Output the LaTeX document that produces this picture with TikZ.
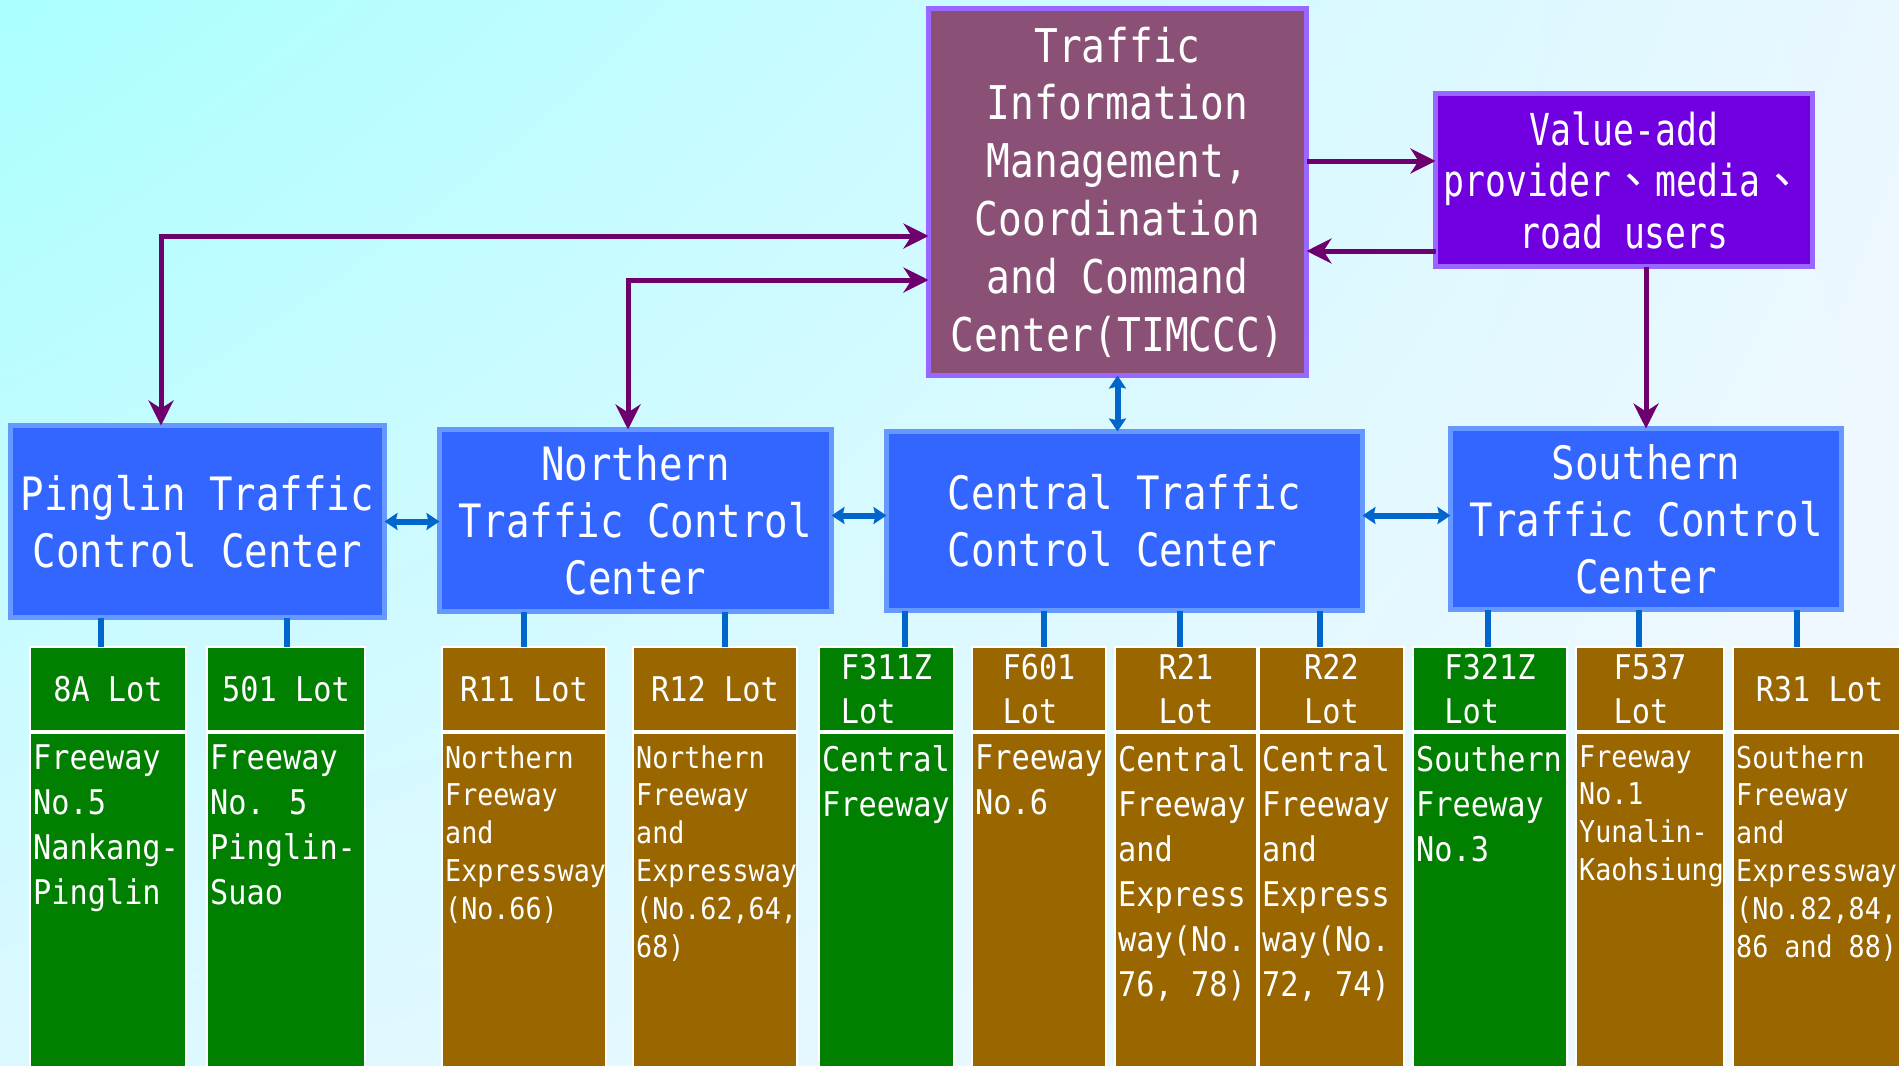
\documentclass[tikz,border=0pt]{standalone}
\usepackage{fontspec}
\usetikzlibrary{arrows.meta,shadings}

% Narrow monospaced faces for the box labels
\newfontfamily\titlefont[FakeStretch=0.85]{DejaVu Sans Mono}
\newfontfamily\lotfont[FakeStretch=0.89]{DejaVu Sans Mono}
\newfontfamily\valuefont[FakeStretch=0.79]{DejaVu Sans Mono}
\newfontfamily\cjkfont{Noto Sans CJK TC}

\definecolor{bgUL}{HTML}{AAFFFF}
\definecolor{bgUR}{HTML}{EAF7FF}
\definecolor{bgLL}{HTML}{DCF8FF}
\definecolor{bgLR}{HTML}{F5F8FF}
\definecolor{timfill}{HTML}{8B5075}
\definecolor{lavender}{HTML}{9966FF}
\definecolor{valfill}{HTML}{7000E0}
\definecolor{ctrfill}{HTML}{3366FF}
\definecolor{ctrbord}{HTML}{6699FF}
\definecolor{lotgreen}{HTML}{007F00}
\definecolor{lotbrown}{HTML}{996600}
\definecolor{linkpurple}{HTML}{6E006E}
\definecolor{linkblue}{HTML}{0066CC}

% One parking-lot column: header, body and the body text
% #1 name, #2 left x, #3 right x, #4 fill, #5 header, #6 text style, #7 text
\newcommand\makelot[7]{%
  \node[lothead, fill=#4, minimum width={#3-#2}] (#1h) at ({(#2+#3)/2},689) {#5};
  \node[lotbody, fill=#4, minimum width={#3-#2}] (#1b) at ({(#2+#3)/2},903) {};
  \node[#6, anchor=north west] (#1t) at ([xshift=3pt,yshift=-12pt]#1b.north west) {#7};
}

\begin{document}
\begin{tikzpicture}[x=1pt,y=-1pt,
  topbox/.style={draw=lavender, line width=5pt, inner sep=0pt, outer sep=0pt,
    text=white, align=center},
  ctrbox/.style={draw=ctrbord, fill=ctrfill, line width=5pt, inner sep=0pt,
    outer sep=0pt, text=white, align=center,
    font=\titlefont\fontsize{46}{57}\selectfont},
  lothead/.style={draw=white, line width=1.5pt, inner sep=0pt, outer sep=0pt,
    minimum height=84, text=white, align=left,
    font=\lotfont\fontsize{34}{44}\selectfont},
  lotbody/.style={draw=white, line width=1.5pt, inner sep=0pt, outer sep=0pt,
    minimum height=340},
  lotnormal/.style={inner sep=0pt, text=white, align=left,
    font=\lotfont\fontsize{34}{45}\selectfont},
  lotsmall/.style={inner sep=0pt, text=white, align=left,
    font=\lotfont\fontsize{30}{37.8}\selectfont},
  stub/.style={draw=linkblue, line width=6pt},
  barrow/.style={draw=linkblue, line width=6pt,
    >={Stealth[length=13pt,width=17pt,inset=2pt]}},
  parrow/.style={draw=linkpurple, line width=5pt,
    >={Stealth[length=25pt,width=25pt,inset=8pt]}}
]
\useasboundingbox (0,0) rectangle (1899,1066);
\shade[upper left=bgUL, upper right=bgUR, lower left=bgLL, lower right=bgLR]
  (0,0) rectangle (1899,1066);

% Command centre and information users
\node[topbox, fill=timfill, minimum width=378, minimum height=367,
  font=\titlefont\fontsize{46.5}{57.8}\selectfont] (timccc) at (1117.5,192)
  {Traffic\\Information\\Management,\\Coordination\\and Command\\Center(TIMCCC)};
\node[topbox, fill=valfill, minimum width=377, minimum height=173,
  font=\valuefont\fontsize{44}{51.5}\selectfont] (value) at (1624,180)
  {Value-add\\provider{\cjkfont 、}media{\cjkfont 、}\\road users};

% Regional traffic control centres
\node[ctrbox, minimum width=374, minimum height=192] (pinglin) at (197.5,521.5)
  {Pinglin Traffic\\Control Center};
\node[ctrbox, minimum width=392, minimum height=182] (northern) at (635.5,520.5)
  {Northern\\Traffic Control\\Center};
\node[ctrbox, minimum width=476, minimum height=179, align=left] (central) at (1124.5,521)
  {Central Traffic\\Control Center};
\node[ctrbox, minimum width=391, minimum height=181] (southern) at (1646,519)
  {Southern\\Traffic Control\\Center};

% Parking lots
\makelot{lA}{30}{186}{lotgreen}{8A Lot}{lotnormal}{Freeway\\No.5\\Nankang-\\Pinglin}
\makelot{lB}{207}{365}{lotgreen}{501 Lot}{lotnormal}{Freeway\\No. 5\\Pinglin-\\Suao}
\makelot{lC}{442}{606}{lotbrown}{R11 Lot}{lotsmall}{Northern\\Freeway\\and\\Expressway\\(No.66)}
\makelot{lD}{633}{797}{lotbrown}{R12 Lot}{lotsmall}{Northern\\Freeway\\and\\Expressway\\(No.62,64,\\68)}
\makelot{lE}{819}{954}{lotgreen}{F311Z\\Lot}{lotnormal}{Central\\Freeway}
\makelot{lF}{972}{1106}{lotbrown}{F601\\Lot}{lotnormal}{Freeway\\No.6}
\makelot{lG}{1115}{1257}{lotbrown}{R21\\Lot}{lotnormal}{Central\\Freeway\\and\\Express\\way(No.\\76, 78)}
\makelot{lH}{1259}{1404}{lotbrown}{R22\\Lot}{lotnormal}{Central\\Freeway\\and\\Express\\way(No.\\72, 74)}
\makelot{lI}{1413}{1567}{lotgreen}{F321Z\\Lot}{lotnormal}{Southern\\Freeway\\No.3}
\makelot{lJ}{1576}{1724}{lotbrown}{F537\\Lot}{lotsmall}{Freeway\\No.1\\Yunalin-\\Kaohsiung}
\makelot{lK}{1733}{1906}{lotbrown}{R31 Lot}{lotsmall}{Southern\\Freeway\\and\\Expressway\\(No.82,84,\\86 and 88)}

% Centre-to-lot links
\draw[stub] ([xshift=-7.4pt]lAh.north) -- ([xshift=-7.4pt]lAh.north |- pinglin.south);
\draw[stub] ([xshift=1pt]lBh.north) -- ([xshift=1pt]lBh.north |- pinglin.south);
\draw[stub] (lCh.north) -- (lCh.north |- northern.south);
\draw[stub] ([xshift=10pt]lDh.north) -- ([xshift=10pt]lDh.north |- northern.south);
\draw[stub] ([xshift=18.5pt]lEh.north) -- ([xshift=18.5pt]lEh.north |- central.south);
\draw[stub] ([xshift=5pt]lFh.north) -- ([xshift=5pt]lFh.north |- central.south);
\draw[stub] ([xshift=-6pt]lGh.north) -- ([xshift=-6pt]lGh.north |- central.south);
\draw[stub] ([xshift=-11.5pt]lHh.north) -- ([xshift=-11.5pt]lHh.north |- central.south);
\draw[stub] ([xshift=-2.5pt]lIh.north) -- ([xshift=-2.5pt]lIh.north |- southern.south);
\draw[stub] ([xshift=-11pt]lJh.north) -- ([xshift=-11pt]lJh.north |- southern.south);
\draw[stub] ([xshift=-22.5pt]lKh.north) -- ([xshift=-22.5pt]lKh.north |- southern.south);

% Links between neighbouring centres and up to the command centre
\draw[barrow,<->] (pinglin.east) -- (pinglin.east -| northern.west);
\draw[barrow,<->] ([yshift=5pt]northern.east) -- ([yshift=5pt]northern.east -| central.west);
\draw[barrow,<->] ([yshift=5.5pt]central.east) -- ([yshift=5.5pt]central.east -| southern.west);
\draw[barrow,<->] (timccc.south) -- (timccc.south |- central.north);

% Command and information flows
\draw[parrow,<->] ([xshift=-36.5pt]pinglin.north) |- ([yshift=-44pt]timccc.west);
\draw[parrow,<->] ([xshift=-7.5pt]northern.north) |- ([yshift=-88pt]timccc.west);
\draw[parrow,->] ([yshift=31pt]timccc.east) -- ([yshift=31pt]timccc.east -| value.west);
\draw[parrow,->] ([yshift=-71pt]value.west) -- ([yshift=-71pt]value.west -| timccc.east);
\draw[parrow,->] (value.south -| southern.north) -- (southern.north);
\end{tikzpicture}
\end{document}
